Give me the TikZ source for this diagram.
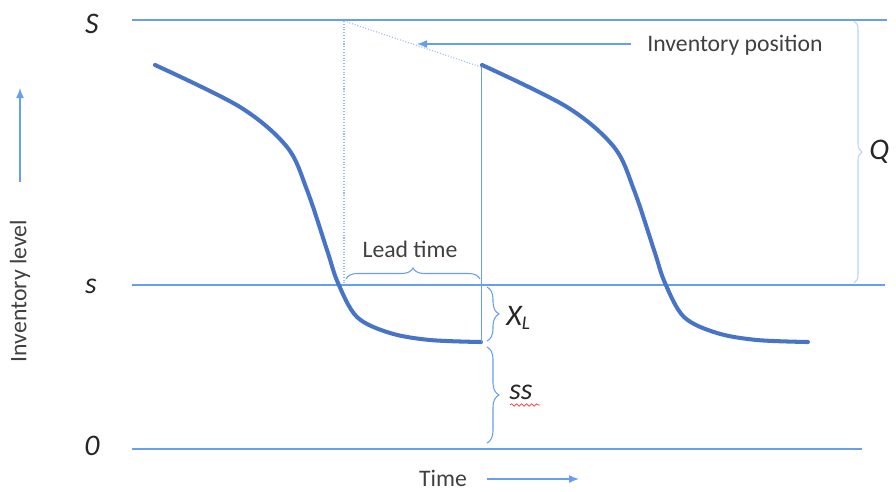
\documentclass[tikz,border=0pt]{standalone}
\usepackage{fontspec}
\setmainfont{Carlito}
\usepackage{xcolor}
\usepackage{tikz}
\usetikzlibrary{arrows.meta,decorations.pathreplacing,decorations.pathmorphing}

\definecolor{lineblue}{RGB}{104,158,238}
\definecolor{curveblue}{RGB}{72,116,200}
\definecolor{txtgray}{RGB}{64,64,64}

\begin{document}
\begin{tikzpicture}[
    x=0.02cm,y=-0.02cm,
    level/.style={lineblue,line width=0.8pt},
    guide/.style={lineblue!70,line width=0.6pt,densely dotted},
    curve/.style={curveblue,line width=2.3pt,line cap=round},
    brc/.style={lineblue,line width=0.6pt,decorate},
    lbl/.style={font=\fontsize{13.5}{16}\selectfont,text=txtgray,inner sep=0pt},
    val/.style={font=\fontsize{17}{20}\selectfont\itshape,text=black!85,inner sep=0pt},
    arr/.style={-{Latex[length=2mm,width=1.6mm]},lineblue,line width=0.8pt}
]
\useasboundingbox (0,0) rectangle (896,491);

% levels S, s and 0
\node[val] (S)    at (92,24)  {S};
\node[val] (smin) at (91,286) {s};
\node[val] (zero) at (92,446) {0};
\coordinate (Sa) at (132,20);  \coordinate (Sb) at (887,20);
\coordinate (sa) at (132,285); \coordinate (sb) at (885,285);
\coordinate (za) at (132,449); \coordinate (zb) at (862,449);
\draw[level] (Sa) -- (Sb);
\draw[level] (sa) -- (sb);
\draw[level] (za) -- (zb);

% inventory level curves
\foreach \dx in {0,327}{
  \draw[curve] plot[smooth,tension=0.55] coordinates {
    (155+\dx,65) (240+\dx,107) (287+\dx,147) (307+\dx,190) (327+\dx,250)
    (338+\dx,283) (357+\dx,317) (390+\dx,333) (430+\dx,340) (481+\dx,342)};
}

% order placed / received
\coordinate (ord)  at (344,21);
\coordinate (ords) at (344,285);
\coordinate (rcv)  at (481,67);
\coordinate (rcvb) at (481,342);
\draw[guide] (ord) -- (ords);
\draw[guide] (ord) -- (rcv);
\draw[level,line width=0.5pt] (rcv) -- (rcvb);

\node[lbl] (ip) at (735,45) {Inventory position};
\coordinate (ipend) at (417,44);
\draw[arr] (ip.west) ++(-16,-1) -- (ipend);

% lead time
\draw[brc,decoration={brace,amplitude=2.2mm}] (346,279) -- (480,279);
\node[lbl] (lt) at (410,249) {Lead time};

% X_L, ss and Q
\draw[brc,decoration={brace,amplitude=2.4mm}] (487,287) -- (487,341);
\node[val,anchor=west] (xl) at (506,318) {X\textsubscript{\fontsize{11}{12}\selectfont L}};
\draw[brc,decoration={brace,amplitude=2.4mm}] (487,347) -- (487,443);
\node[val,anchor=west] (ss) at (509,392) {ss};
\draw[red!80,line width=0.4pt,decorate,
      decoration={snake,amplitude=0.25mm,segment length=1mm}] (510,405) -- (540,405);
\draw[brc,lineblue!45,decoration={brace,amplitude=1.6mm}] (854,21) -- (854,283);
\node[val,anchor=west] (Q) at (869,152) {Q};

% axes
\node[lbl,rotate=90] (ylab) at (20,291) {Inventory level};
\coordinate (ytip) at (20,88);
\draw[arr] (20,182) -- (ytip);
\node[lbl] (xlab) at (443,478) {Time};
\coordinate (xtip) at (579,479);
\draw[arr] (xlab.east) ++(20,1) -- (xtip);
\end{tikzpicture}
\end{document}
